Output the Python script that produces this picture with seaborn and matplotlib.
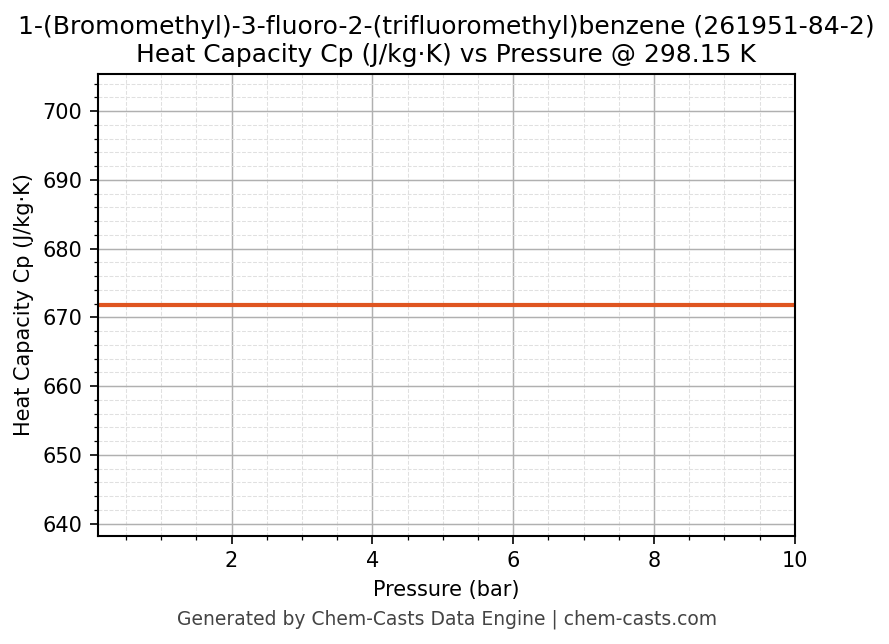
import numpy as np
import pandas as pd
import seaborn as sns
import matplotlib
matplotlib.use("Agg")
import matplotlib.pyplot as plt
from matplotlib.ticker import MultipleLocator

# data (Cp is flat over the pressure range)
pressure_bar = [0.1, 1.0, 2.0, 3.0, 4.0, 5.0, 6.0, 7.0, 8.0, 9.0, 10.0]
cp_j_kgk = [671.8, 671.8, 671.8, 671.8, 671.8, 671.8, 671.8, 671.8, 671.8, 671.8, 671.8]

title = ("1-(Bromomethyl)-3-fluoro-2-(trifluoromethyl)benzene (261951-84-2)\n"
         "Heat Capacity Cp (J/kg\u00b7K) vs Pressure @ 298.15 K")
footer = "Generated by Chem-Casts Data Engine | chem-casts.com"

df = pd.DataFrame({"Pressure (bar)": pressure_bar, "Cp": cp_j_kgk})

sns.set_style("ticks")
plt.rcParams['font.family'] = ['DejaVu Sans']
plt.rcParams['text.color'] = 'black'
plt.rcParams['axes.labelcolor'] = 'black'
plt.rcParams['xtick.color'] = 'black'
plt.rcParams['ytick.color'] = 'black'

fig = plt.figure(figsize=(889 / 150, 644 / 150), dpi=150)
ax = fig.add_axes([0.110, 0.168, 0.784, 0.717])

sns.lineplot(data=df, x="Pressure (bar)", y="Cp", ax=ax, color="#df5520", linewidth=2.0)

# flat series -> +/-5% around the value
v = float(np.mean(cp_j_kgk))
ax.set_ylim(v * 0.95, v * 1.05)
ax.set_xlim(min(pressure_bar), max(pressure_bar))

ax.xaxis.set_major_locator(MultipleLocator(2))
ax.xaxis.set_minor_locator(MultipleLocator(0.5))
ax.yaxis.set_major_locator(MultipleLocator(10))
ax.yaxis.set_minor_locator(MultipleLocator(2))

ax.grid(which="major", color="#b0b0b0", linewidth=0.7)
ax.grid(which="minor", color="#e0e0e0", linestyle="--", linewidth=0.5)
ax.set_axisbelow(True)

for side in ["top", "right", "left", "bottom"]:
    ax.spines[side].set_visible(True)
    ax.spines[side].set_color("black")
    ax.spines[side].set_linewidth(1.0)

ax.tick_params(which="major", labelsize=10, length=4, color="black", direction="out")
ax.tick_params(which="minor", length=2, color="black", direction="out")

ax.set_xlabel("Pressure (bar)", fontsize=10)
ax.set_ylabel("Heat Capacity Cp (J/kg\u00b7K)", fontsize=10)
ax.set_title(title, fontsize=12, pad=6)

fig.text(0.503, 0.038, footer, ha="center", va="center", fontsize=9, color="#444444")

fig.savefig("out.png", dpi=150)
